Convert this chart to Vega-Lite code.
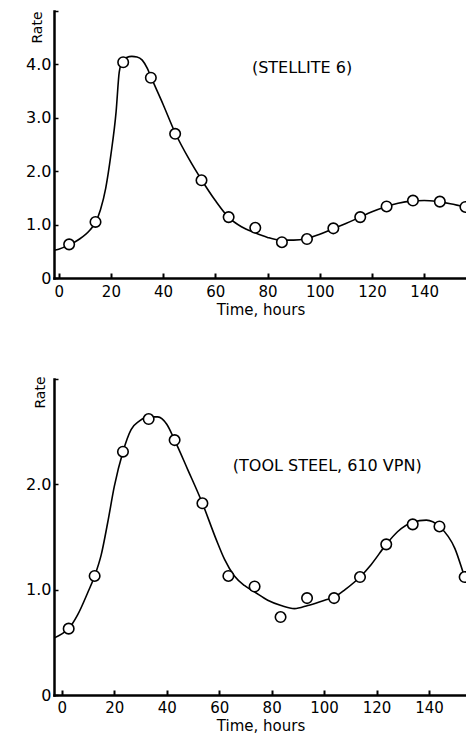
{
  "$schema": "https://vega.github.io/schema/vega-lite/v6.json",
  "padding": {"left": 25, "top": 10, "right": 0, "bottom": 0},
  "autosize": {"type": "pad"},
  "spacing": 59,
  "background": "white",
  "config": {
    "view": {"stroke": null},
    "font": "DejaVu Sans",
    "axis": {
      "grid": false,
      "domainColor": "black",
      "domainWidth": 2.5,
      "domainCap": "square",
      "tickColor": "black",
      "labelColor": "black",
      "titleColor": "black",
      "labelFont": "DejaVu Sans",
      "titleFont": "DejaVu Sans",
      "labelFontSize": 16,
      "titleFontWeight": "normal"
    }
  },
  "datasets": {
    "pts_top": [
      {"time": 4.0, "rate": 0.63}, {"time": 14.1, "rate": 1.05}, {"time": 24.7, "rate": 4.04},
      {"time": 35.3, "rate": 3.75}, {"time": 44.6, "rate": 2.70}, {"time": 54.7, "rate": 1.83},
      {"time": 65.1, "rate": 1.14}, {"time": 75.3, "rate": 0.94}, {"time": 85.5, "rate": 0.67},
      {"time": 95.1, "rate": 0.73}, {"time": 105.2, "rate": 0.93}, {"time": 115.5, "rate": 1.14},
      {"time": 125.6, "rate": 1.34}, {"time": 135.7, "rate": 1.45}, {"time": 146.0, "rate": 1.43},
      {"time": 155.8, "rate": 1.33}
    ],
    "curve_top": [
      {"time": -1.8, "rate": 0.52}, {"time": 0, "rate": 0.54}, {"time": 4, "rate": 0.62},
      {"time": 8, "rate": 0.73}, {"time": 12, "rate": 0.9}, {"time": 14, "rate": 1.03},
      {"time": 16, "rate": 1.28}, {"time": 18, "rate": 1.68}, {"time": 20, "rate": 2.31},
      {"time": 22, "rate": 3.12}, {"time": 23.2, "rate": 3.86}, {"time": 24.5, "rate": 4.07},
      {"time": 26, "rate": 4.13}, {"time": 28, "rate": 4.15}, {"time": 30, "rate": 4.14},
      {"time": 32, "rate": 4.08}, {"time": 34, "rate": 3.92}, {"time": 35.3, "rate": 3.77},
      {"time": 40, "rate": 3.25}, {"time": 44.6, "rate": 2.72}, {"time": 50, "rate": 2.22},
      {"time": 54.7, "rate": 1.84}, {"time": 60, "rate": 1.45}, {"time": 65, "rate": 1.14},
      {"time": 70, "rate": 0.96}, {"time": 75, "rate": 0.85}, {"time": 80, "rate": 0.76},
      {"time": 85, "rate": 0.71}, {"time": 90, "rate": 0.71}, {"time": 95, "rate": 0.74},
      {"time": 100, "rate": 0.82}, {"time": 105, "rate": 0.92}, {"time": 110, "rate": 1.02},
      {"time": 115, "rate": 1.13}, {"time": 120, "rate": 1.24}, {"time": 125, "rate": 1.33},
      {"time": 130, "rate": 1.40}, {"time": 135, "rate": 1.44}, {"time": 140, "rate": 1.45},
      {"time": 145, "rate": 1.43}, {"time": 150, "rate": 1.39}, {"time": 156.4, "rate": 1.32}
    ],
    "pts_bot": [
      {"time": 2.6, "rate": 0.63}, {"time": 12.5, "rate": 1.13}, {"time": 23.3, "rate": 2.31},
      {"time": 33.1, "rate": 2.62}, {"time": 43.0, "rate": 2.42}, {"time": 53.6, "rate": 1.82},
      {"time": 63.5, "rate": 1.13}, {"time": 73.5, "rate": 1.03}, {"time": 83.4, "rate": 0.74},
      {"time": 93.5, "rate": 0.92}, {"time": 103.8, "rate": 0.92}, {"time": 113.7, "rate": 1.12},
      {"time": 123.7, "rate": 1.43}, {"time": 133.8, "rate": 1.62}, {"time": 144.0, "rate": 1.60},
      {"time": 153.6, "rate": 1.12}
    ],
    "curve_bot": [
      {"time": -3, "rate": 0.54}, {"time": 0, "rate": 0.58}, {"time": 2.6, "rate": 0.63},
      {"time": 6, "rate": 0.76}, {"time": 10, "rate": 0.98}, {"time": 12.5, "rate": 1.13},
      {"time": 15, "rate": 1.33}, {"time": 17.5, "rate": 1.64}, {"time": 20, "rate": 1.98},
      {"time": 23.3, "rate": 2.31}, {"time": 26.4, "rate": 2.52}, {"time": 29.5, "rate": 2.60},
      {"time": 33, "rate": 2.64}, {"time": 36.6, "rate": 2.64}, {"time": 40, "rate": 2.57},
      {"time": 43, "rate": 2.42}, {"time": 48, "rate": 2.14}, {"time": 53.6, "rate": 1.82},
      {"time": 58.8, "rate": 1.48}, {"time": 62, "rate": 1.29}, {"time": 65.8, "rate": 1.13},
      {"time": 69.6, "rate": 1.04}, {"time": 73.4, "rate": 0.98}, {"time": 78.5, "rate": 0.90},
      {"time": 83.6, "rate": 0.85}, {"time": 88.7, "rate": 0.82}, {"time": 93.8, "rate": 0.85},
      {"time": 100.2, "rate": 0.90}, {"time": 104, "rate": 0.93}, {"time": 108, "rate": 1.0},
      {"time": 113.7, "rate": 1.12},
      {"time": 118, "rate": 1.24}, {"time": 123.7, "rate": 1.43}, {"time": 128, "rate": 1.55},
      {"time": 133.8, "rate": 1.64}, {"time": 139, "rate": 1.66}, {"time": 144, "rate": 1.60},
      {"time": 149.9, "rate": 1.39}, {"time": 153.6, "rate": 1.12}, {"time": 154.6, "rate": 1.05}
    ],
    "label_top": [{"time": 93.2, "rate": 3.94, "label": "(STELLITE 6)"}],
    "label_bot": [{"time": 101.2, "rate": 2.17, "label": "(TOOL STEEL, 610 VPN)"}]
  },
  "vconcat": [
    {
      "width": 413,
      "height": 267,
      "encoding": {
        "x": {
          "field": "time", "type": "quantitative",
          "scale": {"domain": [-1.8, 156.4], "nice": false, "zero": false},
          "axis": {
            "title": "Time, hours", "titleFontSize": 15, "titlePadding": 3,
            "values": [0, 20, 40, 60, 80, 100, 120, 140],
            "labelFontSize": 15,
            "tickSize": -5, "tickWidth": 2, "labelPadding": 11, "labelFlush": false
          }
        },
        "y": {
          "field": "rate", "type": "quantitative",
          "scale": {"domain": [0, 5], "nice": false},
          "axis": {
            "title": "Rate", "titleFontSize": 14, "titleAnchor": "end", "titleAlign": "right",
            "titleAngle": 270, "titleBaseline": "bottom", "titleX": -10, "titleY": 0,
            "values": [0, 1, 2, 3, 4, 5],
            "labelExpr": "datum.value == 0 ? '0' : (datum.value == 5 ? '' : format(datum.value, '.1f'))",
            "tickSize": -4, "tickWidth": 1.5, "labelPadding": 7
          }
        }
      },
      "layer": [
        {"data": {"name": "curve_top"}, "mark": {"type": "line", "color": "black", "strokeWidth": 1.6, "interpolate": "monotone", "clip": true}},
        {"data": {"name": "pts_top"}, "mark": {"type": "point", "shape": "circle", "filled": true, "fill": "white", "stroke": "black", "strokeWidth": 1.6, "size": 110, "opacity": 1, "clip": true}},
        {"data": {"name": "label_top"}, "mark": {"type": "text", "fontSize": 16, "color": "black", "font": "DejaVu Sans"}, "encoding": {"text": {"field": "label"}}}
      ]
    },
    {
      "width": 413,
      "height": 316,
      "encoding": {
        "x": {
          "field": "time", "type": "quantitative",
          "scale": {"domain": [-3, 154.5], "nice": false, "zero": false},
          "axis": {
            "title": "Time, hours", "titleFontSize": 15, "titlePadding": 3,
            "values": [0, 20, 40, 60, 80, 100, 120, 140],
            "labelFontSize": 15,
            "tickSize": -5, "tickWidth": 2, "labelPadding": 10, "labelFlush": false
          }
        },
        "y": {
          "field": "rate", "type": "quantitative",
          "scale": {"domain": [0, 3], "nice": false},
          "axis": {
            "title": "Rate", "titleFontSize": 14, "titleAnchor": "end", "titleAlign": "right",
            "titleAngle": 270, "titleBaseline": "bottom", "titleX": -7, "titleY": -3,
            "values": [0, 1, 2, 3],
            "labelExpr": "datum.value == 0 ? '0' : (datum.value == 3 ? '' : format(datum.value, '.1f'))",
            "tickSize": -4, "tickWidth": 1.5, "labelPadding": 7
          }
        }
      },
      "layer": [
        {"data": {"name": "curve_bot"}, "mark": {"type": "line", "color": "black", "strokeWidth": 1.6, "interpolate": "monotone", "clip": true}},
        {"data": {"name": "pts_bot"}, "mark": {"type": "point", "shape": "circle", "filled": true, "fill": "white", "stroke": "black", "strokeWidth": 1.6, "size": 110, "opacity": 1, "clip": true}},
        {"data": {"name": "label_bot"}, "mark": {"type": "text", "fontSize": 16, "color": "black", "font": "DejaVu Sans"}, "encoding": {"text": {"field": "label"}}}
      ]
    }
  ]
}
